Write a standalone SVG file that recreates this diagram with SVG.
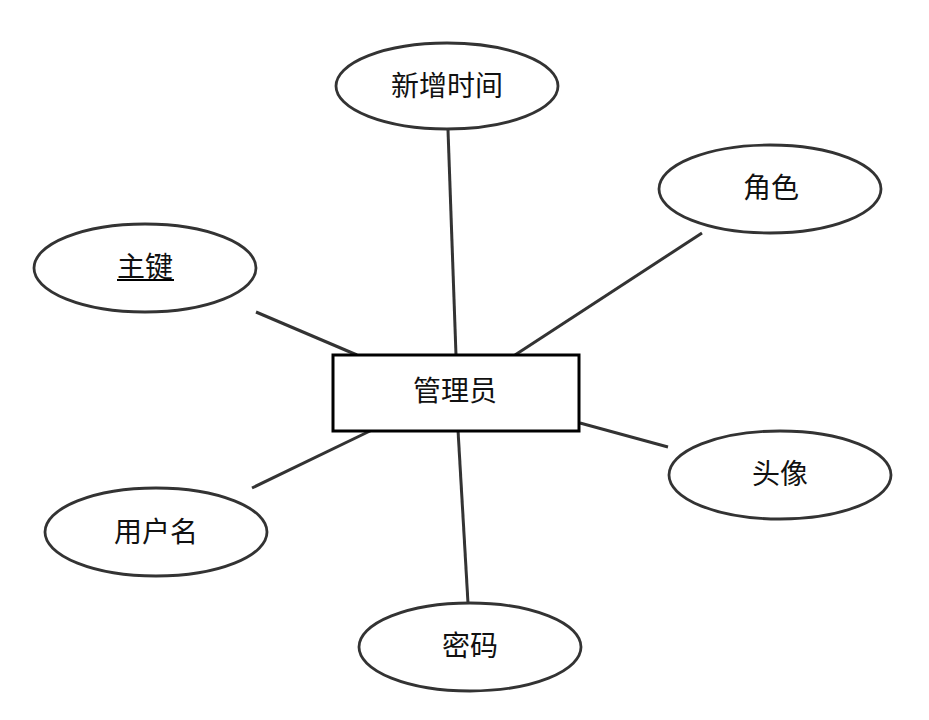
<svg xmlns="http://www.w3.org/2000/svg" width="929" height="720" viewBox="0 0 929 720">
<style>
.attr{fill:#fff;stroke:#333;stroke-width:2.8}
.ent{fill:#fff;stroke:#000;stroke-width:3}
.lbl{font-family:"Noto Sans CJK SC","Noto Sans",sans-serif;font-size:28px;fill:#111;text-anchor:middle;dominant-baseline:central}
.conn line{stroke:#333;stroke-width:3}
</style>
<rect width="929" height="720" fill="#fff"/>
<g id="connectors" class="conn">
<line x1="448" y1="130" x2="456" y2="355"/>
<line x1="702" y1="233" x2="515" y2="355"/>
<line x1="256" y1="312" x2="357" y2="355"/>
<line x1="580" y1="423" x2="668" y2="447"/>
<line x1="252" y1="488" x2="372" y2="430"/>
<line x1="458" y1="430" x2="468" y2="603"/>
</g>
<g id="n_admin">
<rect class="ent" x="333" y="355" width="246" height="76"/>
<text class="lbl" x="455" y="389">管理员</text>
</g>
<g id="n_time">
<ellipse class="attr" cx="447" cy="86" rx="111" ry="43"/>
<text class="lbl" x="447" y="84">新增时间</text>
</g>
<g id="n_role">
<ellipse class="attr" cx="770" cy="189" rx="111" ry="44"/>
<text class="lbl" x="771" y="186">角色</text>
</g>
<g id="n_pk">
<ellipse class="attr" cx="145" cy="268" rx="111" ry="44"/>
<text class="lbl" x="145" y="265">主键</text>
<line x1="117" y1="280" x2="174" y2="280" stroke="#000" stroke-width="2"/>
</g>
<g id="n_avatar">
<ellipse class="attr" cx="780" cy="475" rx="111" ry="44"/>
<text class="lbl" x="780" y="472">头像</text>
</g>
<g id="n_user">
<ellipse class="attr" cx="156" cy="532" rx="111" ry="44"/>
<text class="lbl" x="156" y="530">用户名</text>
</g>
<g id="n_pwd">
<ellipse class="attr" cx="470" cy="647" rx="111" ry="44"/>
<text class="lbl" x="470" y="644">密码</text>
</g>
</svg>
